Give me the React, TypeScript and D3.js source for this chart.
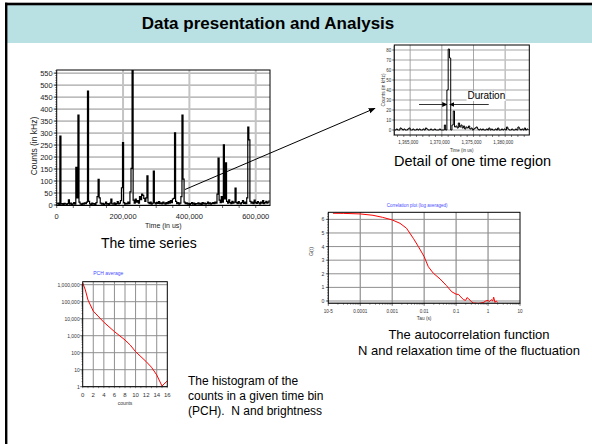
import React from 'react';
import * as d3 from 'd3';

const FONT = "'Liberation Sans', Arial, Helvetica, sans-serif";

// ---------- Time series (main) ----------
const TS_STEP = 3200; // us per bin
const TS_VALUES = [
  5, 8, 3, 287, 4, 6, 2, 7, 5, 3, 6, 22, 4, 8, 3, 5, 10, 4, 157, 30,
  375, 12, 5, 3, 7, 4, 9, 6, 12, 475, 15, 5, 3, 8, 4, 6, 3, 10, 35, 107,
  30, 8, 4, 7, 3, 5, 12, 4, 6, 3, 8, 25, 5, 4, 9, 3, 6, 14, 5, 8,
  18, 72, 260, 10, 4, 7, 5, 12, 6, 55, 153, 600, 20, 8, 25, 12, 18, 8, 35, 22,
  45, 40, 28, 15, 30, 122, 10, 6, 12, 4, 8, 141, 9, 5, 11, 7, 14, 6, 9, 5,
  12, 8, 4, 10, 6, 14, 8, 18, 10, 25, 28, 301, 15, 6, 10, 4, 8, 35, 375, 108,
  12, 6, 9, 4, 7, 3, 6, 10, 4, 8, 3, 6, 5, 9, 4, 7, 3, 10, 5, 8,
  4, 6, 12, 5, 9, 4, 7, 10, 6, 12, 8, 45, 196, 20, 10, 35, 12, 251, 25, 176,
  15, 8, 22, 10, 6, 15, 8, 12, 71, 10, 6, 14, 8, 5, 10, 18, 7, 12, 6, 30,
  325, 272, 15, 8, 12, 6, 20, 10, 7, 14, 9, 5, 12, 8, 18, 6, 10, 15, 8, 12, 20,
];
const TS_Y_TICKS = [0, 50, 100, 150, 200, 250, 300, 350, 400, 450, 500, 550];
const TS_X_TICKS = [0, 200000, 400000, 600000];

// ---------- Detail ----------
const DT_START = 1362600;
const DT_STEP = 200;
const DT_VALUES = [
  0, 1, 0, 0, 2, 1, 0, 1, 0, 0, 1, 2, 0, 0, 1, 0, 0, 1, 0, 1,
  0, 0, 1, 0, 2, 1, 0, 0, 1, 0, 0, 1, 0, 0, 0, 1, 0, 0, 0, 5,
  0, 40, 81, 72, 0, 5, 19, 3, 4, 2, 7, 3, 5, 2, 4, 1, 3, 2, 4, 1,
  2, 0, 1, 2, 3, 1, 0, 1, 0, 1, 0, 0, 1, 0, 2, 0, 1, 0, 0, 1,
  0, 2, 0, 0, 1, 0, 1, 0, 3, 1, 0, 0, 1, 0, 0, 1, 0, 3, 1, 0,
  1, 0, 2, 0, 1, 0,
];
const DT_Y_TICKS = [0, 10, 20, 30, 40, 50, 60, 70, 80];
const DT_X_TICKS = [1365000, 1370000, 1375000, 1380000];

// ---------- Correlation ----------
const CORR_TAU = [
  1.4e-5, 3e-5, 1e-4, 2.5e-4, 5e-4, 1e-3, 1.76e-3, 2.8e-3, 4.6e-3, 6.6e-3,
  1e-2, 1.35e-2, 1.94e-2, 3.15e-2, 5e-2, 7.3e-2, 0.1, 0.12, 0.14, 0.17,
  0.2, 0.22, 0.25, 0.3, 0.35, 0.5, 0.7, 0.85, 1.0, 1.1,
  1.25, 1.4, 1.5, 1.65, 1.8, 2.0,
];
const CORR_G = [
  6.45, 6.44, 6.4, 6.3, 6.15, 5.96, 5.71, 5.35, 4.6, 4.0,
  3.26, 2.52, 2.04, 1.62, 1.13, 0.68, 0.5, 0.48, 0.3, 0.1,
  0.05, 0.25, 0.15, -0.05, -0.15, -0.18, -0.12, 0.0, 0.05, -0.05,
  0.1, 0.0, 0.28, -0.1, 0.0, -0.1,
];
const CORR_X_TICKS = [1e-5, 1e-4, 1e-3, 1e-2, 1e-1, 1, 10];
const CORR_X_LABELS = ['10-5', '0.0001', '0.001', '0.01', '0.1', '1', '10'];
const CORR_Y_TICKS = [0, 1, 2, 3, 4, 5, 6];

// ---------- PCH ----------
const PCH_COUNTS = [0, 0.5, 1, 2, 4, 6, 8, 9, 10, 12, 13, 14, 15, 16];
const PCH_VALUES = [1.3e6, 4.9e5, 1.26e5, 2.8e4, 6200, 1740, 560, 280, 115, 30, 14, 4.9, 1.1, 2.2];
const PCH_X_TICKS = [0, 2, 4, 6, 8, 10, 12, 14, 16];
const PCH_Y_TICKS = [1, 10, 100, 1000, 10000, 100000, 1000000];

const fmt = d3.format(',');

export default function App() {
  // main chart
  const mL = 56.7, mR = 270, mT = 70, mB = 205.5;
  const mx = d3.scaleLinear().domain([0, 643000]).range([mL, mR]);
  const my = d3.scaleLinear().domain([0, 563]).range([205, mT]);
  const mainLine = d3.line<number>().curve(d3.curveStepAfter).x((_, i) => mx(i * TS_STEP)).y((d) => my(d))(TS_VALUES) || '';
  const mainMinorX = d3.range(0, 643000, 50000);
  const mainMinorY = d3.range(0, 563, 10);

  // detail chart
  const dL = 394.3, dR = 529.3, dT = 45, dB = 135;
  const dx = d3.scaleLinear().domain([1362500, 1383800]).range([dL, dR]);
  const dy = d3.scaleLinear().domain([-5, 85]).range([dB, dT]);
  const detailLine = d3.line<number>().curve(d3.curveStepAfter).x((_, i) => dx(DT_START + i * DT_STEP)).y((d) => dy(d))(DT_VALUES) || '';
  const detailMinorX = d3.range(1363000, 1383800, 1000);
  const detailMinorY = d3.range(-5, 85, 2);

  // correlation chart
  const cL = 328.3, cR = 520, cT = 212.3, cB = 303.3;
  const cx = d3.scaleLog().domain([1e-5, 10]).range([cL, cR]);
  const cy = d3.scaleLinear().domain([-0.17, 6.52]).range([cB, cT]);
  const corrLine = d3.line<number>().x((_, i) => cx(CORR_TAU[i])).y((d) => cy(d))(CORR_G) || '';
  const corrMinorX: number[] = [];
  for (let e = -5; e < 1; e++) for (let k = 2; k <= 9; k++) corrMinorX.push(k * Math.pow(10, e));
  const corrMinorY = d3.range(0, 6.5, 0.2);

  // pch chart
  const pL = 82.7, pR = 167.3, pT = 281.7, pB = 386.7;
  const px = d3.scaleLinear().domain([0, 16]).range([pL, pR]);
  const py = d3.scaleLog().domain([1, 1.5e6]).range([pB, pT]);
  const pchLine = d3.line<number>().x((_, i) => px(PCH_COUNTS[i])).y((d) => py(Math.max(1, d)))(PCH_VALUES) || '';
  const pchMinorX = d3.range(0, 17, 1);
  const pchMinorY: number[] = [];
  for (let e = 0; e < 6; e++) for (let k = 2; k <= 9; k++) pchMinorY.push(k * Math.pow(10, e));

  const gridH = '#8f8f8f';
  const gridV = '#c4c4c4';

  return (
    <svg width={592} height={444} style={{ display: 'block', position: 'absolute', left: 0, top: 0 }} fontFamily={FONT}>
      <defs>
        <clipPath id="mainClip"><rect x={mL} y={mT} width={mR - mL} height={mB - mT + 1} /></clipPath>
        <clipPath id="detailClip"><rect x={dL} y={dT} width={dR - dL} height={dB - dT} /></clipPath>
        <clipPath id="corrClip"><rect x={cL} y={cT} width={cR - cL} height={cB - cT} /></clipPath>
        <clipPath id="pchClip"><rect x={pL} y={pT - 2} width={pR - pL + 2} height={pB - pT + 2} /></clipPath>
        <marker id="arrowHead" viewBox="0 0 10 10" refX="9" refY="5" markerWidth="7" markerHeight="7" orient="auto" markerUnits="userSpaceOnUse">
          <path d="M0,1 L10,5 L0,9 z" fill="#000" />
        </marker>
        <marker id="smallHead" viewBox="0 0 10 10" refX="9" refY="5" markerWidth="5" markerHeight="5" orient="auto" markerUnits="userSpaceOnUse">
          <path d="M0,0 L10,5 L0,10 z" fill="#000" />
        </marker>
      </defs>
      <rect x={0} y={0} width={592} height={444} fill="#fff" />
      {/* header */}
      <rect x={7} y={5} width={585} height={38} fill="#b9e0e3" />
      <rect x={5} y={2.7} width={587} height={2.6} fill="#000" />
      <rect x={5} y={2.7} width={2.4} height={441.3} fill="#000" />
      <text x={268} y={23} textAnchor="middle" dominantBaseline="central" fontSize={17} fontWeight="bold" fill="#000">Data presentation and Analysis</text>

      {/* ===== Main time series ===== */}
      <g>
        {TS_Y_TICKS.map((t) => (
          <line key={'mgh' + t} x1={mL} x2={mR} y1={my(t)} y2={my(t)} stroke={gridH} strokeWidth={1} />
        ))}
        {TS_X_TICKS.slice(1).map((t) => (
          <line key={'mgv' + t} x1={mx(t)} x2={mx(t)} y1={mT} y2={mB} stroke={gridV} strokeWidth={2} />
        ))}
        <path d={mainLine} fill="none" stroke="#000" strokeWidth={1.2} clipPath="url(#mainClip)" />
        <rect x={mL} y={mT} width={mR - mL} height={mB - mT} fill="none" stroke="#000" strokeWidth={1} />
        {mainMinorY.map((t) => (
          <line key={'mmy' + t} x1={mL - 1.5} x2={mL} y1={my(t)} y2={my(t)} stroke="#000" strokeWidth={0.5} />
        ))}
        {TS_Y_TICKS.map((t) => (
          <g key={'mty' + t}>
            <line x1={mL - 3} x2={mL} y1={my(t)} y2={my(t)} stroke="#000" strokeWidth={0.8} />
            <text x={mL - 4} y={my(t)} textAnchor="end" dominantBaseline="central" fontSize={7.5} fill="#222">{t}</text>
          </g>
        ))}
        {mainMinorX.map((t) => (
          <line key={'mmx' + t} x1={mx(t)} x2={mx(t)} y1={mB} y2={mB + 2.5} stroke="#000" strokeWidth={0.6} />
        ))}
        {TS_X_TICKS.map((t) => (
          <text key={'mtx' + t} x={mx(t)} y={216.5} textAnchor="middle" dominantBaseline="central" fontSize={7.5} fill="#222">{fmt(t)}</text>
        ))}
        <text x={(mL + mR) / 2} y={225} textAnchor="middle" dominantBaseline="central" fontSize={7} fill="#222">Time (in us)</text>
        <text transform={`translate(34,146) rotate(-90)`} textAnchor="middle" dominantBaseline="central" fontSize={8.5} fill="#222">Counts (in kHz)</text>
      </g>
      <text x={101} y={243} dominantBaseline="central" fontSize={14} fill="#000">The time series</text>

      {/* arrow to detail */}
      <line x1={185} y1={189.5} x2={375} y2={108.3} stroke="#000" strokeWidth={1} markerEnd="url(#arrowHead)" />

      {/* ===== Detail ===== */}
      <g>
        {DT_Y_TICKS.map((t) => (
          <line key={'dgh' + t} x1={dL} x2={dR} y1={dy(t)} y2={dy(t)} stroke={gridH} strokeWidth={0.8} />
        ))}
        {DT_X_TICKS.map((t) => (
          <line key={'dgv' + t} x1={dx(t)} x2={dx(t)} y1={dT} y2={dB} stroke={t === 1380000 ? gridV : gridH} strokeWidth={t === 1380000 ? 1.6 : 0.8} />
        ))}
        <path d={detailLine} fill="none" stroke="#000" strokeWidth={1} clipPath="url(#detailClip)" />
        <rect x={dL} y={dT} width={dR - dL} height={dB - dT} fill="none" stroke="#000" strokeWidth={1} />
        {detailMinorY.map((t) => (
          <line key={'dmy' + t} x1={dL - 1.2} x2={dL} y1={dy(t)} y2={dy(t)} stroke="#000" strokeWidth={0.4} />
        ))}
        {DT_Y_TICKS.map((t) => (
          <g key={'dty' + t}>
            <line x1={dL - 2} x2={dL} y1={dy(t)} y2={dy(t)} stroke="#000" strokeWidth={0.6} />
            <text x={dL - 3} y={dy(t)} textAnchor="end" dominantBaseline="central" fontSize={4.5} fill="#333">{t}</text>
          </g>
        ))}
        {detailMinorX.map((t) => (
          <line key={'dmx' + t} x1={dx(t)} x2={dx(t)} y1={dB} y2={dB + 2} stroke="#000" strokeWidth={0.5} />
        ))}
        {DT_X_TICKS.map((t) => (
          <text key={'dtx' + t} x={dx(t) - 2} y={142.5} textAnchor="middle" dominantBaseline="central" fontSize={4.5} fill="#333">{fmt(t)}</text>
        ))}
        <text x={(dL + dR) / 2} y={150.5} textAnchor="middle" dominantBaseline="central" fontSize={4.5} fill="#333">Time (in us)</text>
        <text transform={`translate(383.5,90) rotate(-90)`} textAnchor="middle" dominantBaseline="central" fontSize={4.8} fill="#333">Counts (in kHz)</text>
        {/* Duration annotation */}
        <rect x={dx(1373900)} y={dy(39)} width={39} height={10} fill="#fff" />
        <text x={dx(1374040)} y={dy(35)} dominantBaseline="central" fontSize={10} fill="#000">Duration</text>
        <line x1={dx(1366400)} y1={dy(25.5)} x2={dx(1370780)} y2={dy(25.5)} stroke="#000" strokeWidth={0.8} markerEnd="url(#smallHead)" />
        <line x1={dx(1377400)} y1={dy(25.5)} x2={dx(1371250)} y2={dy(25.5)} stroke="#000" strokeWidth={0.8} markerEnd="url(#smallHead)" />
      </g>
      <text x={394} y={161} dominantBaseline="central" fontSize={14.5} fill="#000">Detail of one time region</text>

      {/* ===== Correlation ===== */}
      <g>
        <text x={(cL + cR) / 2 - 7} y={205.7} textAnchor="middle" dominantBaseline="central" fontSize={4.5} fill="#4a4aff">Correlation plot (log averaged)</text>
        {CORR_Y_TICKS.map((t) => (
          <line key={'cgh' + t} x1={cL} x2={cR} y1={cy(t)} y2={cy(t)} stroke={gridH} strokeWidth={1} />
        ))}
        <line x1={cL} x2={cR} y1={cy(-0.1)} y2={cy(-0.1)} stroke={gridV} strokeWidth={1} />
        {CORR_X_TICKS.slice(1, -1).map((t) => (
          <line key={'cgv' + t} x1={cx(t)} x2={cx(t)} y1={cT} y2={cB} stroke={gridH} strokeWidth={1.2} />
        ))}
        <path d={corrLine} fill="none" stroke="#ff0000" strokeWidth={1} clipPath="url(#corrClip)" />
        <rect x={cL} y={cT} width={cR - cL} height={cB - cT} fill="none" stroke="#000" strokeWidth={1} />
        {corrMinorY.map((t) => (
          <line key={'cmy' + t} x1={cL - 1.2} x2={cL} y1={cy(t)} y2={cy(t)} stroke="#000" strokeWidth={0.4} />
        ))}
        {CORR_Y_TICKS.map((t) => (
          <g key={'cty' + t}>
            <line x1={cL - 2.5} x2={cL} y1={cy(t)} y2={cy(t)} stroke="#000" strokeWidth={0.6} />
            <text x={cL - 4} y={cy(t)} textAnchor="end" dominantBaseline="central" fontSize={5.2} fill="#333">{t}</text>
          </g>
        ))}
        {corrMinorX.map((t, i) => (
          <line key={'cmx' + i} x1={cx(t)} x2={cx(t)} y1={cB} y2={cB + 1.5} stroke="#000" strokeWidth={0.4} />
        ))}
        {CORR_X_TICKS.map((t, i) => (
          <g key={'ctx' + i}>
            <line x1={cx(t)} x2={cx(t)} y1={cB} y2={cB + 2.5} stroke="#000" strokeWidth={0.6} />
            <text x={cx(t)} y={311} textAnchor="middle" dominantBaseline="central" fontSize={4.6} fill="#333">{CORR_X_LABELS[i]}</text>
          </g>
        ))}
        <text x={(cL + cR) / 2} y={318} textAnchor="middle" dominantBaseline="central" fontSize={4.8} fill="#333">Tau (s)</text>
        <text transform={`translate(311,251.5) rotate(-90)`} textAnchor="middle" dominantBaseline="central" fontSize={5.2} fill="#333">G(t)</text>
      </g>
      <text x={469} y={334} textAnchor="middle" dominantBaseline="central" fontSize={13} fill="#000">The autocorrelation function</text>
      <text x={469} y={350} textAnchor="middle" dominantBaseline="central" fontSize={13} fill="#000">N and relaxation time of the fluctuation</text>

      {/* ===== PCH ===== */}
      <g>
        <text x={108.3} y={273.3} textAnchor="middle" dominantBaseline="central" fontSize={5} fill="#4a4aff">PCH average</text>
        {PCH_Y_TICKS.map((t) => (
          <line key={'pgh' + t} x1={pL} x2={pR} y1={py(t)} y2={py(t)} stroke={gridH} strokeWidth={1} />
        ))}
        {PCH_X_TICKS.slice(1, -1).map((t) => (
          <line key={'pgv' + t} x1={px(t)} x2={px(t)} y1={pT} y2={pB} stroke={gridH} strokeWidth={1} />
        ))}
        <path d={pchLine} fill="none" stroke="#ff0000" strokeWidth={1} clipPath="url(#pchClip)" />
        <rect x={pL} y={pT} width={pR - pL} height={pB - pT} fill="none" stroke="#000" strokeWidth={1} />
        {pchMinorY.map((t, i) => (
          <line key={'pmy' + i} x1={pL - 1.2} x2={pL} y1={py(t)} y2={py(t)} stroke="#000" strokeWidth={0.4} />
        ))}
        {PCH_Y_TICKS.map((t) => (
          <g key={'pty' + t}>
            <line x1={pL - 2.5} x2={pL} y1={py(t)} y2={py(t)} stroke="#000" strokeWidth={0.6} />
            <text x={pL - 3} y={py(t)} textAnchor="end" dominantBaseline="central" fontSize={5} fill="#333">{fmt(t)}</text>
          </g>
        ))}
        {pchMinorX.map((t) => (
          <line key={'pmx' + t} x1={px(t)} x2={px(t)} y1={pB} y2={pB + 1.5} stroke="#000" strokeWidth={0.4} />
        ))}
        {PCH_X_TICKS.map((t) => (
          <text key={'ptx' + t} x={px(t)} y={395} textAnchor="middle" dominantBaseline="central" fontSize={6} fill="#333">{t}</text>
        ))}
        <text x={(pL + pR) / 2} y={403.3} textAnchor="middle" dominantBaseline="central" fontSize={5} fill="#333">counts</text>
      </g>
      <text x={188} y={381} dominantBaseline="central" fontSize={12} fill="#000">The histogram of the</text>
      <text x={188} y={396} dominantBaseline="central" fontSize={12} fill="#000">counts in a given time bin</text>
      <text x={188} y={411} dominantBaseline="central" fontSize={12} fill="#000" style={{ whiteSpace: 'pre' }}>{'(PCH).  N and brightness'}</text>
    </svg>
  );
}
